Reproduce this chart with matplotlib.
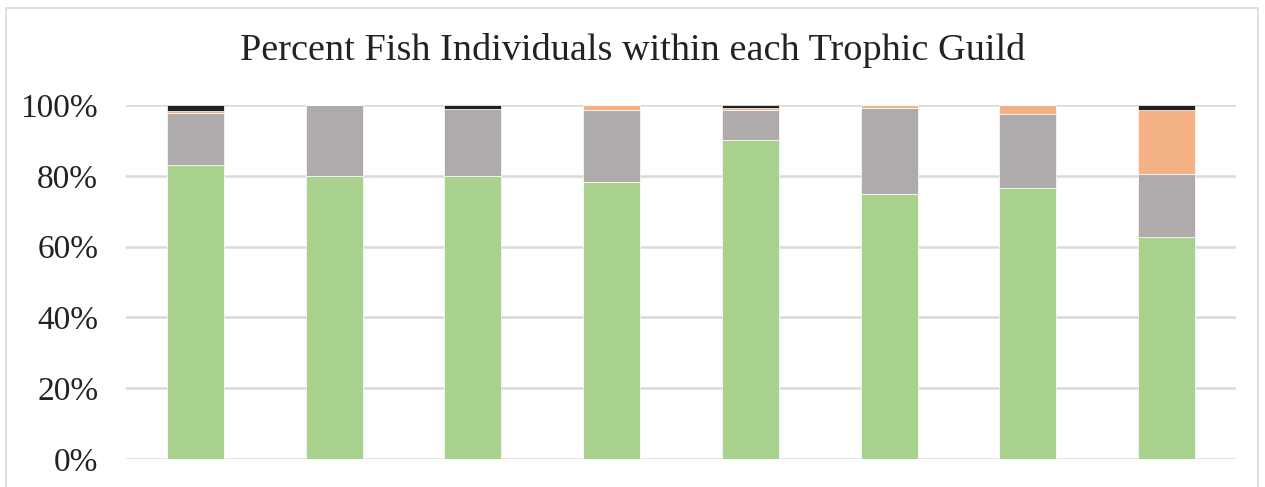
import matplotlib
matplotlib.use("Agg")
import matplotlib.pyplot as plt
import numpy as np
from matplotlib.patches import Rectangle
from matplotlib.ticker import FuncFormatter

sites = ["1", "2", "3", "4", "5", "6", "7", "8"]
green = [83.0, 80.0, 80.0, 78.2, 90.1, 74.9, 76.6, 62.7]
gray = [14.7, 20.0, 18.8, 20.5, 8.6, 24.2, 20.8, 17.9]
orange = [0.5, 0.0, 0.0, 1.3, 0.4, 0.9, 2.6, 17.9]
black = [1.8, 0.0, 1.2, 0.0, 0.9, 0.0, 0.0, 1.5]
series = [green, gray, orange, black]
colors = ["#A9D18E", "#AFABAB", "#F4B183", "#231F20"]
yticks = [0, 20, 40, 60, 80, 100]

plt.rcParams['font.family'] = ['Liberation Serif', 'DejaVu Serif']

fig = plt.figure(figsize=(12.65, 4.87), dpi=100)
ax = fig.add_axes([126/1265, 28/487, (1236-126)/1265, (459-105)/487])

x = np.arange(len(sites))
bottom = np.zeros(len(sites))
for vals, c in zip(series, colors):
    v = np.array(vals) / 100.0
    ax.bar(x, v, width=0.41, bottom=bottom, color=c, edgecolor="white",
           linewidth=0.5, zorder=3)
    bottom += v

ax.set_xlim(-0.5, len(sites) - 0.5)
ax.set_ylim(0, 1)
ax.set_yticks([t / 100 for t in yticks])
ax.yaxis.set_major_formatter(FuncFormatter(lambda v, p: f"{int(round(v*100))}%"))
ax.tick_params(axis='y', length=0, labelsize=24, pad=20, labelcolor="#222222")
ax.set_xticks([])
ax.grid(axis='y', color="#D9D9D9", linewidth=1.8, zorder=0)
for s in ax.spines.values():
    s.set_visible(False)

fig.text(0.5, 1 - 50/487, "Percent Fish Individuals within each Trophic Guild",
         ha="center", va="center", fontsize=27.5, color="#222222")

fig.add_artist(Rectangle((6/1265, -0.05), (1258-6)/1265, 1 - 8/487 + 0.05,
                         transform=fig.transFigure, fill=False,
                         edgecolor="#D9D9D9", linewidth=1.2))

fig.savefig("out.png", dpi=100)
